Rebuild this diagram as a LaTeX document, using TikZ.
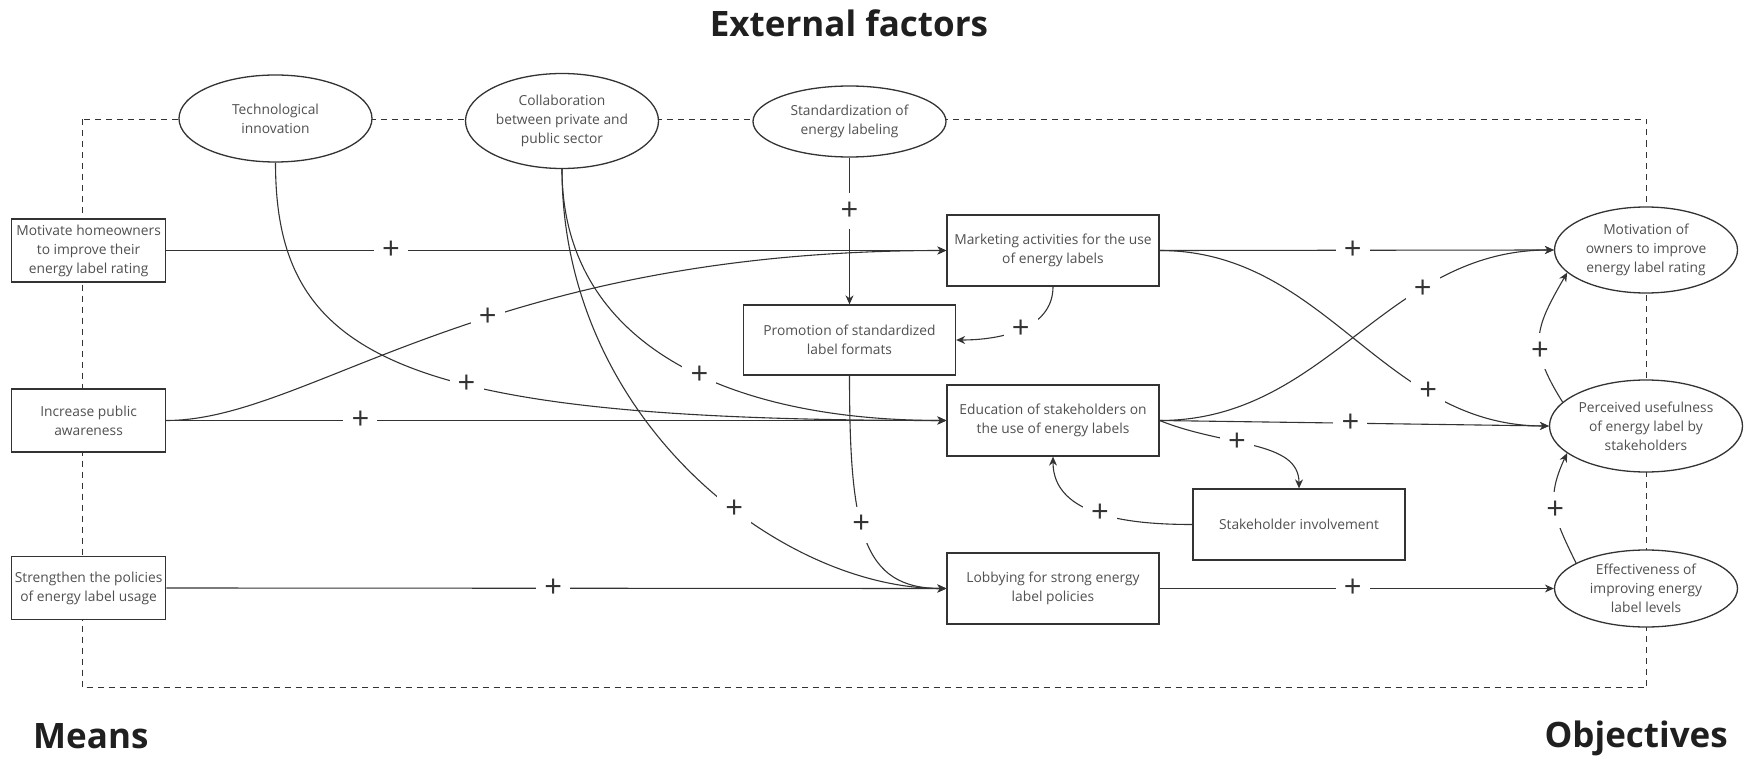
\documentclass[tikz,border=0pt]{standalone}
\usepackage{fontspec}
\setmainfont{Open Sans}
\usetikzlibrary{shapes.geometric,arrows.meta}
\definecolor{ln}{HTML}{333333}
\definecolor{tx}{HTML}{505050}
\newcommand{\ndfont}{\fontsize{13.8}{19}\selectfont}
\newcommand{\plsfont}{\fontsize{31}{31}\selectfont}
\newcommand{\ttlfont}{\fontsize{35}{40}\selectfont\bfseries}
\tikzset{
  box/.style={draw=ln, line width=1.3pt, fill=white, rectangle, minimum width=212pt,
    minimum height=71pt, align=center, text=tx, font=\ndfont, inner sep=0pt},
  mbox/.style={box, minimum width=154pt, minimum height=63pt},
  ell/.style={draw=ln, line width=1.3pt, fill=white, ellipse, align=center, text=tx,
    font=\ndfont, inner sep=0pt},
  conn/.style={draw=ln, line width=1.1pt, -{Stealth[length=9pt,width=8pt]}},
  plus/.style={fill=white, text=ln, font=\plsfont, inner sep=0pt, minimum width=34pt, minimum height=36pt},
  ttl/.style={font=\ttlfont, text=black!88, inner sep=0pt}
}
\begin{document}
\begin{tikzpicture}[x=1pt,y=1pt]
\useasboundingbox (0,0) rectangle (1751,-762);
% frame
\draw[ln, line width=1.1pt, dash pattern=on 6pt off 5pt] (82.5,-119.5) rectangle (1646.5,-687.5);
% titles
\node[ttl, anchor=base] (ext) at (849,-36.7) {External factors};
\node[ttl, anchor=base west] (means) at (33,-748) {Means};
\node[ttl, anchor=base east] (obj) at (1728,-747) {Objectives};
% external factors
\node[ell, minimum width=193pt, minimum height=87pt] (tech) at (275.5,-118.5) {Technological\\innovation};
\node[ell, minimum width=193pt, minimum height=95pt] (collab) at (562,-121) {Collaboration\\between private and\\public sector};
\node[ell, minimum width=193pt, minimum height=71pt] (stand) at (849.5,-121.5) {Standardization of\\energy labeling};
% means
\node[mbox] (homeown) at (88.6,-250.5) {Motivate homeowners\\to improve their\\energy label rating};
\node[mbox] (aware) at (88.6,-420.5) {Increase public\\awareness};
\node[mbox] (policy) at (88.6,-588) {Strengthen the policies\\of energy label usage};
% middle
\node[box] (mkt) at (1053,-250.5) {Marketing activities for the use\\of energy labels};
\node[box, minimum height=70pt] (promo) at (849.5,-340) {Promotion of standardized\\label formats};
\node[box] (edu) at (1053,-420.5) {Education of stakeholders on\\the use of energy labels};
\node[box] (lobby) at (1053,-588.5) {Lobbying for strong energy\\label policies};
\node[box] (stake) at (1299,-524.5) {Stakeholder involvement};
% objectives
\node[ell, minimum width=183pt, minimum height=86pt] (mot) at (1646,-250) {Motivation of\\owners to improve\\energy label rating};
\node[ell, minimum width=193pt, minimum height=92pt] (perc) at (1646,-426) {Perceived usefulness\\of energy label by\\stakeholders};
\node[ell, minimum width=183pt, minimum height=77pt] (eff) at (1646,-588.5) {Effectiveness of\\improving energy\\label levels};
% connectors
\draw[conn] (homeown.east) -- node[plus,pos=0.288]{+} (mkt.west);
\draw[conn] (aware.east) .. controls (310,-420.5) and (480,-250.5) .. node[plus,pos=0.57]{+} (mkt.west);
\draw[conn] (tech.south) .. controls (275.5,-360) and (400,-420.5) .. node[plus,pos=0.59]{+} (edu.west);
\draw[conn] (aware.east) -- node[plus,pos=0.249]{+} (edu.west);
\draw[conn] (collab.south) .. controls (562,-340) and (720,-420.5) .. node[plus,pos=0.57]{+} (edu.west);
\draw[conn] (collab.south) .. controls (562,-420) and (780,-588.5) .. node[plus,pos=0.59]{+} (lobby.west);
\draw[conn] (stand.south) -- node[plus,pos=0.365]{+} (promo.north);
\draw[conn] (mkt.south) to[out=-90,in=0] node[plus,pos=0.5]{+} (promo.east);
\draw[conn] (promo.south) .. controls (849.5,-530) and (862,-588.5) .. node[plus,pos=0.43]{+} (lobby.west);
\draw[conn] (policy.east) -- node[plus,pos=0.496]{+} (lobby.west);
\draw[conn] (mkt.east) -- node[plus,pos=0.49]{+} (mot.west);
\draw[conn] (mkt.east) to[out=0,in=180] node[plus,pos=0.715]{+} (perc.west);
\draw[conn] (edu.east) -- node[plus,pos=0.49]{+} (perc.west);
\draw[conn] (edu.east) to[out=0,in=180] node[plus,pos=0.69]{+} (mot.west);
\draw[conn] (edu.east) .. controls (1225,-447) and (1299,-440) .. node[plus,pos=0.4]{+} (stake.north);
\draw[conn] (stake.west) to[out=180,in=-90] node[plus,pos=0.5]{+} (edu.south);
\draw[conn] (lobby.east) -- node[plus,pos=0.49]{+} (eff.west);
\draw[conn] (perc.164) to[out=122,in=240,looseness=1.3] node[plus,pos=0.38]{+} (mot.196);
\draw[conn] (eff.160) to[out=116,in=245,looseness=1.2] node[plus,pos=0.48]{+} (perc.199);
\end{tikzpicture}
\end{document}
